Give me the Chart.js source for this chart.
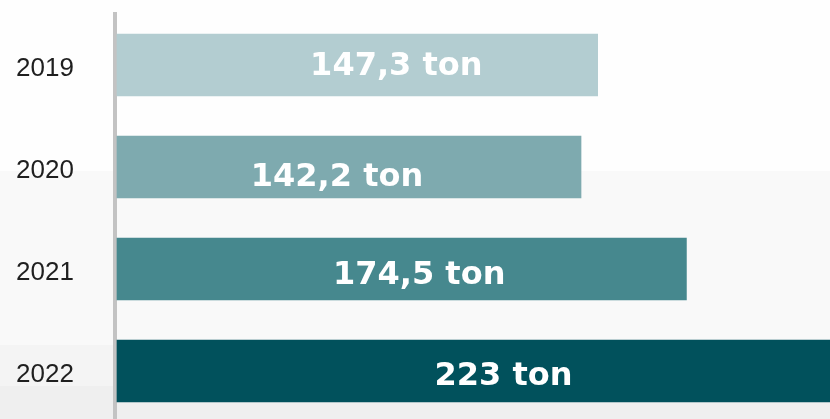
<!DOCTYPE html>
<html>
<head>
  <meta charset="utf-8"/>
  <style>
    html,body{margin:0;padding:0;width:830px;height:419px;overflow:hidden;
      background:linear-gradient(to bottom,#fefefe 0,#fefefe 171px,#f9f9f9 171px,#f9f9f9 345px,#f4f4f4 345px,#f4f4f4 386px,#efefef 386px);}
    canvas{display:block;}
  </style>
</head>
<body>
  <canvas id="c" width="830" height="425"></canvas>
  <script src="https://cdn.jsdelivr.net/npm/chart.js@4.4.0/dist/chart.umd.min.js"></script>
  <script>
    const years   = ['2019','2020','2021','2022'];
    const tonnes  = [147.3, 142.2, 174.5, 223];
    const colors  = ['#b3cdd1','#7eaaaf','#46888e','#01515c'];
    const unit    = 'ton';

    const fmt = v => String(v).replace('.', ',') + ' ' + unit;

    // white value labels inside the bars, nudged like the original
    const barLabels = {
      id:'barLabels',
      afterDatasetsDraw(chart, args, opts) {
        const ctx  = chart.ctx;
        const area = chart.chartArea;
        const meta = chart.getDatasetMeta(0);
        ctx.save();
        ctx.fillStyle = '#fff';
        ctx.font = 'bold 32px "DejaVu Sans"';
        ctx.textAlign = 'center';
        ctx.textBaseline = 'alphabetic';
        meta.data.forEach((bar, i) => {
          const end = Math.min(bar.x, area.right);
          const cx  = (bar.base + end) / 2 + opts.dx[i];
          ctx.fillText(fmt(tonnes[i]), cx, bar.y + opts.dy[i]);
        });
        ctx.restore();
      }
    };

    const chart = new Chart(document.getElementById('c'), {
      type:'bar',
      data:{
        labels: years,
        datasets:[{
          data: tonnes,
          backgroundColor: colors,
          borderWidth:0,
          barThickness:62
        }]
      },
      options:{
        indexAxis:'y',
        responsive:false,
        animation:false,
        layout:{ padding:{ left:16, top:14, bottom:3, right:0 } },
        plugins:{
          legend:{display:false},
          tooltip:{enabled:false},
          barLabels:{ dx:[39,-12,17.5,30], dy:[9.5,19,14.5,13.5] }
        },
        scales:{
          x:{ display:false, min:-0.61, max:218.5, grid:{display:false} },
          y:{
            grid:{display:false, drawTicks:false},
            border:{display:true, color:'#c3c3c3', width:4},
            afterFit(scale){ scale.width = 99; scale.paddingTop = 0; scale.paddingBottom = 0; },
            ticks:{ color:'#1f1f1f', crossAlign:'far', labelOffset:4, autoSkip:false,
                    font:{family:'"Liberation Sans", Arial, sans-serif', size:26} }
          }
        }
      },
      plugins:[barLabels]
    });
  </script>
</body>
</html>
